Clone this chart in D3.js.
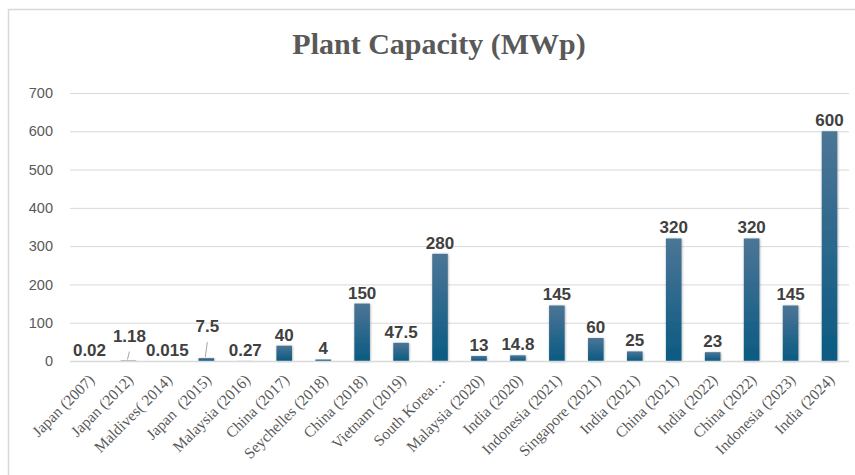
<!DOCTYPE html>
<html>
<head>
<meta charset="utf-8">
<script src="https://cdn.jsdelivr.net/npm/d3@7"></script>
<style>
  html, body { margin: 0; padding: 0; background: #fff; }
  svg { display: block; }
</style>
</head>
<body>
<svg id="chart" width="855" height="475"></svg>
<script>
// Plant capacity by project (MWp)
const categories = [
  "Japan (2007)", "Japan (2012)", "Maldives( 2014)", "Japan  (2015)", "Malaysia (2016)",
  "China (2017)", "Seychelles (2018)", "China (2018)", "Vietnam (2019)", "South Korea…",
  "Malaysia (2020)", "India (2020)", "Indonesia (2021)", "Singapore (2021)", "India (2021)",
  "China (2021)", "India (2022)", "China (2022)", "Indonesia (2023)", "India (2024)"
];
const capacity = [0.02, 1.18, 0.015, 7.5, 0.27, 40, 4, 150, 47.5, 280, 13, 14.8, 145, 60, 25, 320, 23, 320, 145, 600];
const valueLabels = ["0.02", "1.18", "0.015", "7.5", "0.27", "40", "4", "150", "47.5", "280", "13", "14.8", "145", "60", "25", "320", "23", "320", "145", "600"];
const yTicks = [0, 100, 200, 300, 400, 500, 600, 700];
// labels lifted above the bar with a short leader line (label -> lift in px)
const liftedLabels = { "1.18": 19, "7.5": 26 };

const svg = d3.select("#chart");
const margin = { left: 70, right: 6, top: 93, bottom: 114 };
const W = 855, H = 475;

// outer frame
svg.append("path")
  .attr("d", `M8.5,475 V9.5 H855`)
  .attr("fill", "none").attr("stroke", "#d9d9d9").attr("stroke-width", 1.5);

svg.append("text")
  .attr("x", 439).attr("y", 54)
  .attr("text-anchor", "middle")
  .attr("font-family", "'Liberation Serif', 'Times New Roman', serif")
  .attr("font-weight", "bold")
  .attr("font-size", 30)
  .attr("fill", "#595959")
  .text("Plant Capacity (MWp)");

const x = d3.scaleBand().domain(categories)
  .range([margin.left, W - margin.right]).paddingInner(0.6).paddingOuter(0.3);
const y = d3.scaleLinear().domain([0, 700]).range([H - margin.bottom, margin.top]);

const defs = svg.append("defs");
const grad = defs.append("linearGradient").attr("id", "barGrad")
  .attr("x1", 0).attr("y1", 0).attr("x2", 0).attr("y2", 1);
grad.append("stop").attr("offset", "0%").attr("stop-color", "#4c7596");
grad.append("stop").attr("offset", "100%").attr("stop-color", "#0a5a82");
const sh = defs.append("filter").attr("id", "barShadow")
  .attr("x", "-50%").attr("y", "-10%").attr("width", "200%").attr("height", "120%");
sh.append("feDropShadow").attr("dx", 0.5).attr("dy", 0.5).attr("stdDeviation", 1.2)
  .attr("flood-color", "#000").attr("flood-opacity", 0.35);

// gridlines + y tick labels
const yAxis = d3.axisLeft(y).tickValues(yTicks).tickSize(-(W - margin.right - margin.left)).tickPadding(17);
const gy = svg.append("g").attr("transform", `translate(${margin.left},0)`).call(yAxis);
gy.select(".domain").remove();
gy.selectAll(".tick line").attr("stroke", "#d9d9d9").attr("stroke-width", 1);
gy.selectAll(".tick text")
  .attr("font-family", "'Liberation Sans', Arial, sans-serif")
  .attr("font-size", 14.5).attr("fill", "#595959");

// bars
svg.append("g").selectAll("rect").data(capacity).join("rect")
  .attr("x", (d, i) => x(categories[i]))
  .attr("width", x.bandwidth())
  .attr("y", d => y(d))
  .attr("height", d => y(0) - y(d))
  .attr("fill", "url(#barGrad)")
  .attr("filter", "url(#barShadow)");

// baseline + rotated category labels
const gx = svg.append("g").attr("transform", `translate(0,${y(0)})`)
  .call(d3.axisBottom(x).tickSize(0).tickPadding(0));
gx.select(".domain").attr("stroke", "#d9d9d9").attr("stroke-width", 1.5)
  .attr("d", `M${margin.left},0.5H${W - margin.right}`);
gx.selectAll(".tick text")
  .attr("font-family", "'Liberation Serif', 'Times New Roman', serif")
  .attr("font-size", 15.5).attr("fill", "#595959")
  .attr("text-anchor", "end")
  .attr("transform", "translate(2,16) rotate(-45)")
  .attr("dy", "0.35em").attr("y", 0).attr("x", 0)
  .style("white-space", "pre");

// value labels
const lbl = svg.append("g")
  .attr("font-family", "'Liberation Sans', Arial, sans-serif")
  .attr("font-weight", "bold").attr("font-size", 17).attr("fill", "#404040")
  .attr("text-anchor", "middle");
capacity.forEach((d, i) => {
  const cx = x(categories[i]) + x.bandwidth() / 2;
  const txt = valueLabels[i];
  if (txt in liftedLabels) {
    const ty = y(d) - liftedLabels[txt];
    lbl.append("text").attr("x", cx + 1).attr("y", ty).text(txt);
    svg.append("line")
      .attr("x1", cx + 1).attr("y1", ty + 10)
      .attr("x2", cx - 1).attr("y2", y(d) - 1)
      .attr("stroke", "#a6a6a6").attr("stroke-width", 1);
  } else {
    lbl.append("text").attr("x", cx).attr("y", y(d) - 5).text(txt);
  }
});
</script>
</body>
</html>
